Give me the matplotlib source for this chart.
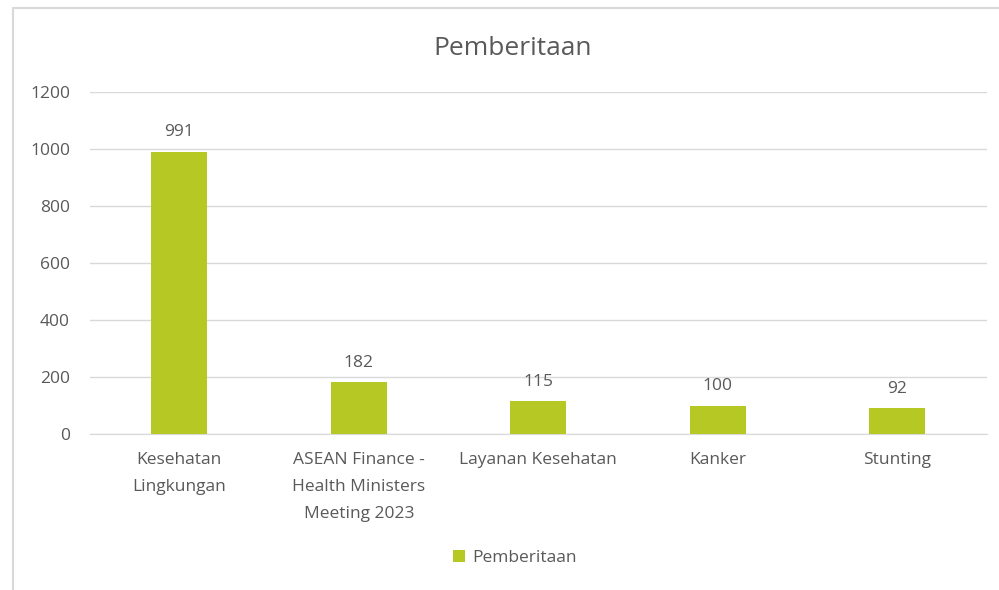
import matplotlib.pyplot as plt
from matplotlib.patches import Rectangle

categories = ['Kesehatan\nLingkungan',
              'ASEAN Finance -\nHealth Ministers\nMeeting 2023',
              'Layanan Kesehatan',
              'Kanker',
              'Stunting']
values = [991, 182, 115, 100, 92]
yticks = [0, 200, 400, 600, 800, 1000, 1200]

bar_color = '#B5C823'
text_color = '#595959'
grid_color = '#D9D9D9'

plt.rcParams['font.family'] = ['Open Sans', 'DejaVu Sans']

fig = plt.figure(figsize=(9.99, 5.9), dpi=100)

# chart border (cropped on right and bottom)
fig.patches.append(Rectangle((13 / 999, -0.1), 1.2, 1 - 8 / 590 + 0.1,
                             transform=fig.transFigure, fill=False,
                             edgecolor='#D9D9D9', linewidth=1.5))

ax = fig.add_axes([0.0896, 0.2644, 0.8984, 0.5797])

x = list(range(len(categories)))
bars = ax.bar(x, values, width=0.31, color=bar_color, zorder=3, label='Pemberitaan')

for xi, v in zip(x, values):
    ax.annotate(str(v), (xi, v), xytext=(0, 8), textcoords='offset points',
                ha='center', va='bottom', fontsize=12.5, color=text_color)

ax.set_xlim(-0.5, len(categories) - 0.5)
ax.set_ylim(0, 1200)
ax.set_yticks(yticks)
ax.set_xticks(x)
ax.set_xticklabels(categories, fontsize=12.5, color=text_color, linespacing=1.92)
ax.tick_params(axis='y', labelsize=12.5, labelcolor=text_color, length=0, pad=14)
ax.tick_params(axis='x', length=0, pad=13)

ax.grid(axis='y', color=grid_color, linewidth=1, zorder=0)
for s in ['top', 'right', 'left']:
    ax.spines[s].set_visible(False)
ax.spines['bottom'].set_color(grid_color)

fig.text(0.513, 0.918, 'Pemberitaan', ha='center', va='center',
         fontsize=19, color=text_color)

fig.legend(handles=[bars], labels=['Pemberitaan'], loc='center',
           bbox_to_anchor=(0.515, 0.054), frameon=False, fontsize=12.5,
           labelcolor=text_color, handlelength=0.7, handleheight=0.7,
           handletextpad=0.4)

fig.savefig('out.png', dpi=100)
